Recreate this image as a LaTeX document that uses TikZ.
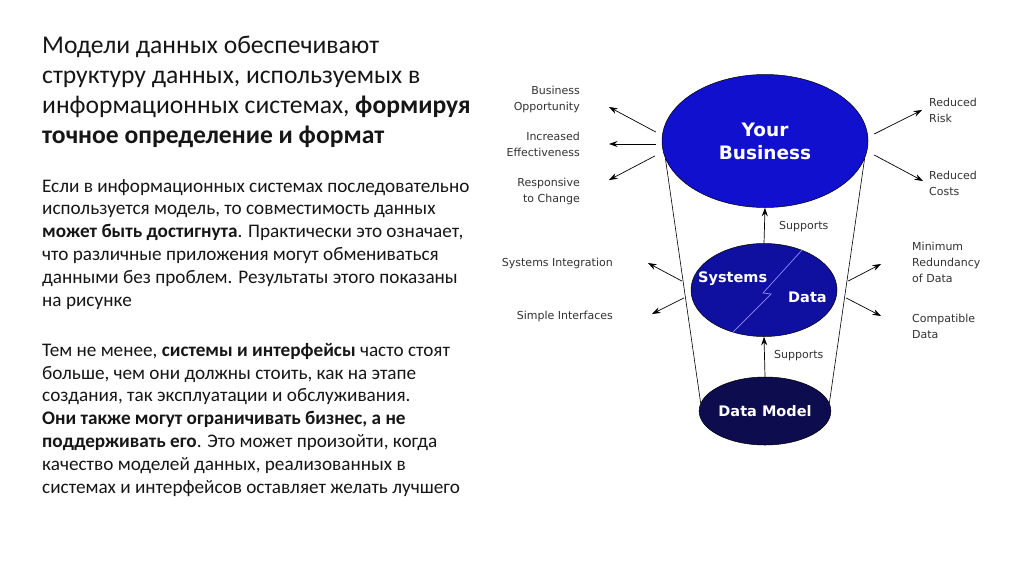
\documentclass[tikz,border=0pt]{standalone}
\usepackage{fontspec}
\setmainfont{Carlito}
\newfontfamily\dejavu{DejaVu Sans}
\usetikzlibrary{positioning,arrows.meta,shapes.geometric,calc}

\definecolor{bizblue}{RGB}{16,16,206}
\definecolor{sysblue}{RGB}{16,16,160}
\definecolor{modelblue}{RGB}{12,12,78}
\definecolor{zigblue}{RGB}{140,140,255}
\definecolor{labelgray}{RGB}{50,50,50}
\definecolor{textblack}{RGB}{22,22,22}

\begin{document}
\begin{tikzpicture}[
    x=1pt,
    y=-1pt,
    >={Stealth[length=8.5pt,width=6pt]},
    layer/.style={ellipse, draw=black, line width=0.5pt, inner sep=0pt, text=white, align=center, font=\dejavu\bfseries\fontsize{14.5}{17}\selectfont},
    lbl/.style={inner sep=0pt, text=labelgray, font=\dejavu\fontsize{11}{16}\selectfont},
    outarrow/.style={->, line width=0.7pt},
    para/.style={anchor=north west, inner sep=0pt, align=left, text=textblack}
]
\useasboundingbox[fill=white] (0,0) rectangle (1024,576);

% --- Texte ---
\node[para, font=\fontsize{25.6}{30}\selectfont] (head) at (42,36)
    {Модели данных обеспечивают\\структуру данных, используемых в\\информационных системах, \textbf{формируя}\\\textbf{точное определение и формат}};
\node[para, font=\fontsize{19.2}{22.8}\selectfont] (intro) at (42,179)
    {Если в информационных системах последовательно\\используется модель, то совместимость данных\\\textbf{может быть достигнута}. Практически это означает,\\что различные приложения могут обмениваться\\данными без проблем. Результаты этого показаны\\на рисунке};
\node[para, font=\fontsize{19.2}{22.8}\selectfont] (remark) at (42,343)
    {Тем не менее, \textbf{системы и интерфейсы} часто стоят\\больше, чем они должны стоить, как на этапе\\создания, так эксплуатации и обслуживания.\\\textbf{Они также могут ограничивать бизнес, а не}\\\textbf{поддерживать его}. Это может произойти, когда\\качество моделей данных, реализованных в\\системах и интерфейсов оставляет желать лучшего};

% --- Ellipsen ---
\node[layer, fill=bizblue, minimum width=206pt, minimum height=133pt, font=\dejavu\bfseries\fontsize{18.5}{23}\selectfont] (biz) at (765,141) {Your\\Business};
\node[layer, fill=sysblue, minimum width=146pt, minimum height=93pt] (sys) at (764,290) {};
\node[layer, fill=modelblue, minimum width=105pt, minimum height=68pt] (model) at (765,411) {Data Model};

\draw[zigblue, line width=0.7pt] ([shift={(38,-40)}]sys.center) -- ([shift={(-1,3)}]sys.center)
    -- ([shift={(7,4)}]sys.center) -- ([shift={(-31,42)}]sys.center);
\node[inner sep=0pt, text=white, font=\dejavu\bfseries\fontsize{14.5}{17}\selectfont, anchor=base west] (systxt) at (698,282) {Systems};
\node[inner sep=0pt, text=white, font=\dejavu\bfseries\fontsize{14.5}{17}\selectfont, anchor=base west] (datatxt) at (788,302) {Data};

% --- Trichter ---
\draw[line width=0.6pt] (biz.190) -- (model.173);
\draw[line width=0.6pt] (biz.-10) -- (model.7);

% --- Supports ---
\draw[outarrow] (sys.north) -- (biz.south);
\draw[outarrow] (model.north) -- (sys.south);
\node[lbl, anchor=west] (sup1) at (779,227) {Supports};
\node[lbl, anchor=west] (sup2) at (774,356) {Supports};

% --- Nutzen links ---
\node[lbl, anchor=east, align=right] (opp) at (580,99) {Business\\Opportunity};
\node[lbl, anchor=east, align=right] (eff) at (580,144) {Increased\\Effectiveness};
\node[lbl, anchor=east, align=right] (chg) at (580,191) {Responsive\\to Change};
\node[lbl, anchor=east] (integ) at (613,263) {Systems Integration};
\node[lbl, anchor=east] (iface) at (613,316) {Simple Interfaces};

\draw[outarrow] ([shift={(-6,-9)}]biz.west) -- ([shift={(29,8)}]opp.east);
\draw[outarrow] ([shift={(-6,3)}]biz.west) -- ([shift={(29,0)}]eff.east);
\draw[outarrow] ([shift={(-7,15)}]biz.west) -- ([shift={(29,-11)}]chg.east);
\draw[outarrow] ([shift={(-9,-9)}]sys.west) -- ([shift={(35,0)}]integ.east);
\draw[outarrow] ([shift={(-7,8)}]sys.west) -- ([shift={(39,-2)}]iface.east);

% --- Nutzen rechts ---
\node[lbl, anchor=west, align=left] (risk) at (929,110) {Reduced\\Risk};
\node[lbl, anchor=west, align=left] (cost) at (929,183) {Reduced\\Costs};
\node[lbl, anchor=west, align=left] (redund) at (912,262) {Minimum\\Redundancy\\of Data};
\node[lbl, anchor=west, align=left] (compat) at (912,326) {Compatible\\Data};

\draw[outarrow] ([shift={(6,-7)}]biz.east) -- ([shift={(-7,0)}]risk.west);
\draw[outarrow] ([shift={(6,14)}]biz.east) -- ([shift={(-6,-2)}]cost.west);
\draw[outarrow] ([shift={(11,-9)}]sys.east) -- ([shift={(-31,2)}]redund.west);
\draw[outarrow] ([shift={(9,8)}]sys.east) -- ([shift={(-31,-10)}]compat.west);

\end{tikzpicture}
\end{document}
